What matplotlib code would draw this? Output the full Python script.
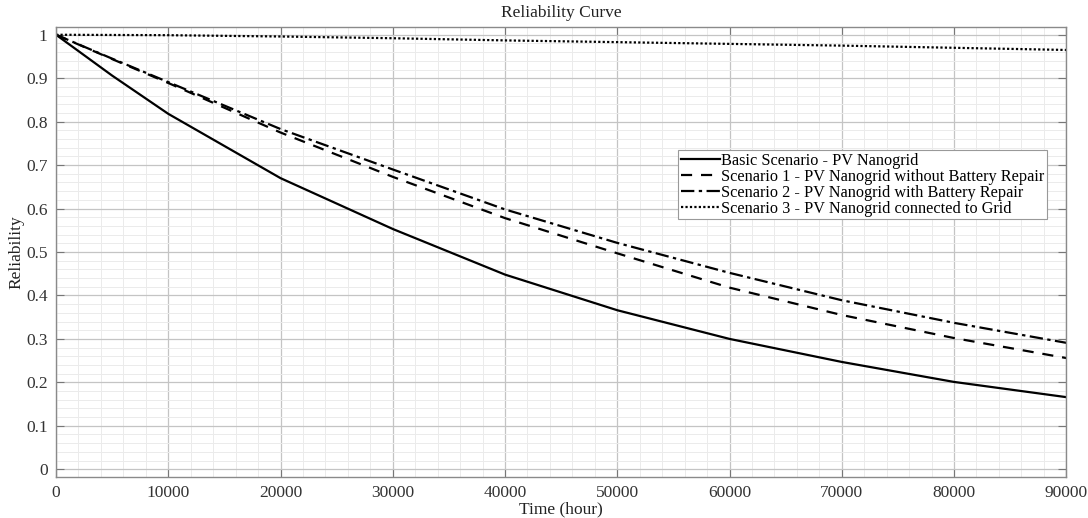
import numpy as np
import matplotlib
matplotlib.use('Agg')
import matplotlib.pyplot as plt
from matplotlib.ticker import MultipleLocator

# time axis (hours) and reliability
hours = [0, 5000, 10000, 20000, 30000, 40000, 50000, 60000, 70000, 80000, 90000]
basic = [1.0, 0.906, 0.818, 0.670, 0.553, 0.448, 0.366, 0.300, 0.247, 0.201, 0.166]
scen1 = [1.0, 0.944, 0.889, 0.775, 0.673, 0.578, 0.497, 0.418, 0.355, 0.302, 0.256]
scen2 = [1.0, 0.945, 0.891, 0.783, 0.690, 0.598, 0.521, 0.452, 0.389, 0.337, 0.291]
scen3 = [1.0, 0.9995, 0.999, 0.996, 0.992, 0.987, 0.983, 0.979, 0.975, 0.970, 0.965]

labels = ["Basic Scenario - PV Nanogrid",
          "Scenario 1 - PV Nanogrid without Battery Repair",
          "Scenario 2 - PV Nanogrid with Battery Repair",
          "Scenario 3 - PV Nanogrid connected to Grid"]

plt.rcParams['font.family'] = ['Liberation Serif', 'DejaVu Serif']

fig = plt.figure(figsize=(10.88, 5.18), dpi=100)
ax = fig.add_axes([0.0515, 0.079, 0.9285, 0.869])

ax.plot(hours, basic, color='black', lw=1.6, ls='-', label=labels[0])
ax.plot(hours, scen1, color='black', lw=1.6, ls=(0, (5, 4)), label=labels[1])
ax.plot(hours, scen2, color='black', lw=1.6, ls=(0, (6, 2, 1.5, 2)), label=labels[2])
ax.plot(hours, scen3, color='black', lw=1.6, ls=(0, (1, 1)), label=labels[3])

ax.set_xlim(0, 90000)
ax.set_ylim(-0.018, 1.018)
ax.xaxis.set_major_locator(MultipleLocator(10000))
ax.xaxis.set_minor_locator(MultipleLocator(2000))
ax.set_yticks(np.arange(0, 1.01, 0.1))
ax.set_yticklabels(["0", "0.1", "0.2", "0.3", "0.4", "0.5", "0.6", "0.7", "0.8", "0.9", "1"])
ax.yaxis.set_minor_locator(MultipleLocator(0.02))

ax.grid(which='major', color='#c4c4c4', lw=0.9)
ax.grid(which='minor', color='#ebebeb', lw=0.7)
ax.set_axisbelow(True)

ax.tick_params(which='major', direction='in', length=6, width=0.8, color='#777777',
               top=True, right=True, labelsize=12.5, labelcolor='#333333', pad=6)
ax.tick_params(which='minor', length=0)
for s in ax.spines.values():
    s.set_color('#8a8a8a')
    s.set_linewidth(1.0)

ax.set_xlabel("Time (hour)", fontsize=12.5, color='#222222', labelpad=0)
ax.set_ylabel("Reliability", fontsize=12.5, color='#222222', labelpad=1)
ax.set_title("Reliability Curve", fontsize=12.5, color='#222222', pad=7)

leg = ax.legend(loc='upper right', bbox_to_anchor=(0.981, 0.726), fontsize=11.7,
                handlelength=2.4, handletextpad=0.1, labelspacing=0.0,
                borderpad=0.15, borderaxespad=0, fancybox=False, framealpha=1,
                edgecolor='#999999')
leg.get_frame().set_linewidth(0.8)

plt.savefig("out.png", dpi=100)
